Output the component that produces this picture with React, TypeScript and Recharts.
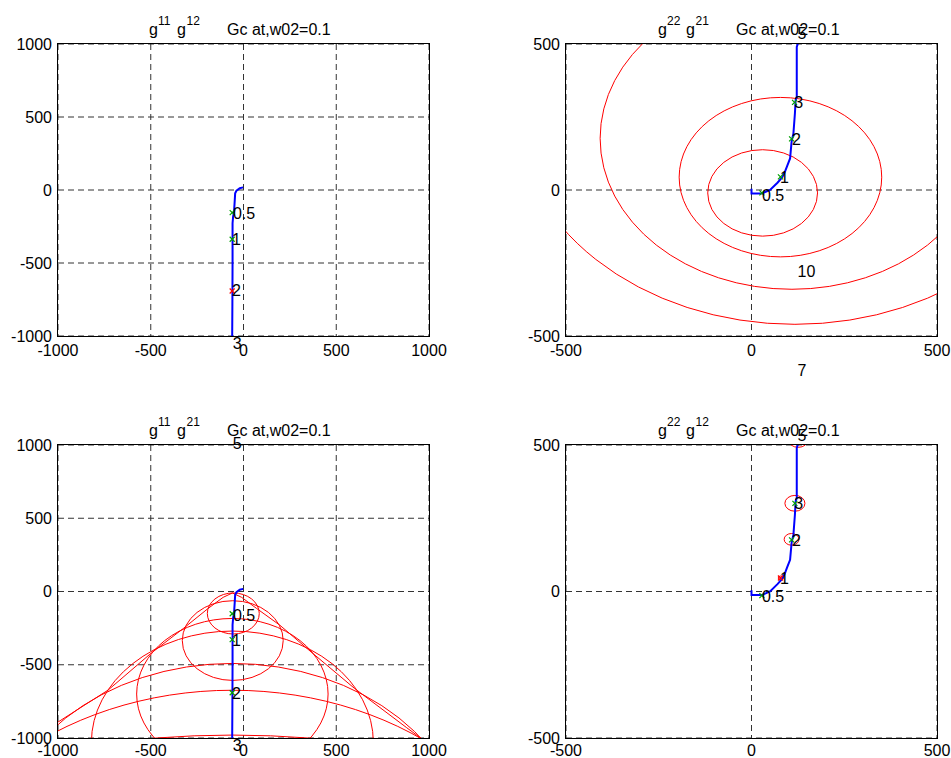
import React from "react";
import { CartesianGrid, ReferenceDot, Scatter, ScatterChart, XAxis, YAxis } from "recharts";

const FONT = '"Liberation Sans", Arial, Helvetica, sans-serif';
const BLUE = "#0000ff";
const RED = "#ff0000";
const GREEN = "#00a000";

// axis ticks
const bigTicks = [-1000, -500, 0, 500, 1000];
const smallTicks = [-500, 0, 500];

// g11 locus (left column)
const g11X = [-2, -20, -38, -45, -47, -51, -56, -59, -59, -60, -61];
const g11Y = [18, 12, -5, -23, -68, -148, -182, -228, -500, -800, -1005];

// g22 locus (right column)
const g22X = [0, 0, 28, 50, 70, 82, 90, 96, 104, 108, 113, 117, 119, 122, 122, 126];
const g22Y = [4, -12, -12, 0, 25, 42, 62, 82, 108, 165, 194, 262, 308, 319, 490, 505];

// top left
const tlGreenX = [-61, -61];
const tlGreenY = [-155, -337];
const tlRedX = [-61];
const tlRedY = [-692];
const tlText = ["0.5", "1", "2", "3"];
const tlTextX = [-57, -62, -62, -58];
const tlTextY = [-158, -337, -690, -1048];

// top right
const trCircX = [30, 78, 109, 117];
const trCircY = [-10, 44, 177, 299];
const trCircR = [148, 273, 517, 759];
const trGreenX = [28, 78, 108, 116];
const trGreenY = [-10, 45, 175, 300];
const trText = ["0.5", "1", "2", "3", "5", "10", "7"];
const trTextX = [28, 77, 109, 115, 124, 124, 124];
const trTextY = [-17, 43, 174, 299, 536, -277, -616];

// bottom left
const blCircX = [-55, -58, -60, -60, -60, -60, -60];
const blCircY = [-150, -335, -700, -1030, -1761, -2408, -5180];
const blCircR = [140, 272, 516, 760, 1270, 1734, 4200];
const blTentX = [-1000, -730, -496, -325, -191, -110, -60, -10, 71, 196, 375, 600, 880, 960];
const blTentY = [-891, -673, -419, -253, -116, -40, -10, -40, -116, -230, -424, -663, -930, -1005];
const blGreenX = [-61, -61, -61];
const blGreenY = [-152, -329, -691];
const blText = ["0.5", "1", "2", "3", "5"];
const blTextX = [-57, -62, -62, -58, -58];
const blTextY = [-161, -331, -696, -1049, 1013];

// bottom right
const brCircX = [79, 108, 117, 126];
const brCircY = [46, 178, 301, 519];
const brCircR = [7, 20, 27, 27];
const brGreenX = [28, 108, 117];
const brGreenY = [-14, 176, 301];
const brRedX = [78];
const brRedY = [46];
const brText = ["0.5", "1", "2", "3", "5"];
const brTextX = [28, 77, 109, 115, 124];
const brTextY = [-18, 45, 176, 301, 534];

type Series = { xs: number[]; ys: number[] };
type Circles = { xs: number[]; ys: number[]; rs: number[] };
type Labels = { text: string[]; xs: number[]; ys: number[] };

const zip = (xs: number[], ys: number[]) => xs.map((x, i) => ({ x, y: ys[i] }));

// centre, a point one radius right, a point one radius up
const ringTables = (c: Circles) =>
  c.xs.map((x, i) => [
    { x, y: c.ys[i] },
    { x: x + c.rs[i], y: c.ys[i] },
    { x, y: c.ys[i] + c.rs[i] },
  ]);

const Ellipse = (props: any) => {
  const p = props.points;
  if (!p || p.length < 3) return <g />;
  return (
    <ellipse
      cx={p[0].x}
      cy={p[0].y}
      rx={Math.abs(p[1].x - p[0].x)}
      ry={Math.abs(p[2].y - p[0].y)}
      fill="none"
      stroke={RED}
      strokeWidth={1}
    />
  );
};

const Hidden = () => <g />;

const cross = (color: string) => (props: any) => {
  const { cx, cy } = props;
  const s = 2.5;
  return (
    <path
      d={`M${cx - s},${cy - s}L${cx + s},${cy + s}M${cx - s},${cy + s}L${cx + s},${cy - s}`}
      stroke={color}
      strokeWidth={1.2}
      fill="none"
    />
  );
};

function Panel(props: {
  box: number[];
  lim: number;
  ticks: number[];
  padB: number;
  padR: number;
  gap: number;
  locus: Series;
  circles?: Circles;
  arcs?: Series[];
  green: Series;
  red?: Series;
  labels: Labels;
}) {
  const { box, lim, ticks, padB, padR, gap, locus, circles, arcs = [], green, red, labels } = props;
  const [L, T, W, H] = box;
  const padL = 60;
  const padT = 24;
  const tick = { fill: "#000", fontSize: 16, fontFamily: FONT };
  const rings = circles ? ringTables(circles) : [];

  return (
    <>
      <div style={{ position: "absolute", left: L - padL, top: T - padT }}>
        <ScatterChart
            width={W + padL + padR}
            height={H + padT + padB}
            margin={{ top: padT, right: padR, bottom: 0, left: 0 }}
            style={{ overflow: "visible" }}
        >
            <CartesianGrid stroke="#333" strokeDasharray="6 4" />
            <XAxis
                type="number"
                dataKey="x"
                domain={[-lim, lim]}
                ticks={ticks}
                allowDataOverflow
                interval={0}
                height={padB}
                tickLine={false}
                axisLine={false}
                tickSize={0}
                tickMargin={gap}
                tick={tick}
            />
            <YAxis
                type="number"
                dataKey="y"
                domain={[-lim, lim]}
                ticks={ticks}
                allowDataOverflow
                interval={0}
                width={padL}
                tickLine={false}
                axisLine={false}
                tickSize={0}
                tickMargin={6}
                tick={tick}
            />
            {rings.map((d, i) => (
                <Scatter key={"c" + i} data={d} line={Ellipse} shape={Hidden} isAnimationActive={false} />
            ))}
            {arcs.map((s, i) => (
                <Scatter
                    key={"a" + i}
                    data={zip(s.xs, s.ys)}
                    line={{ stroke: RED, strokeWidth: 1 }}
                    shape={Hidden}
                    isAnimationActive={false}
                />
            ))}
            <Scatter
                data={zip(locus.xs, locus.ys)}
                line={{ stroke: BLUE, strokeWidth: 2 }}
                shape={Hidden}
                isAnimationActive={false}
            />
            <Scatter data={zip(green.xs, green.ys)} shape={cross(GREEN)} isAnimationActive={false} />
            {red && <Scatter data={zip(red.xs, red.ys)} shape={cross(RED)} isAnimationActive={false} />}
            {labels.text.map((t, i) => (
                <ReferenceDot
                    key={"t" + i}
                    x={labels.xs[i]}
                    y={labels.ys[i]}
                    r={0}
                    ifOverflow="visible"
                    shape={(p: any) => (
                        <text x={p.cx} y={p.cy} dy="0.355em" fill="#000" fontSize={16} fontFamily={FONT}>
                            {t}
                        </text>
                    )}
                />
            ))}
        </ScatterChart>
      </div>
      {/* axes box */}
      <div
        style={{
          position: "absolute",
          left: L - 1,
          top: T - 1,
          width: W + 2,
          height: H + 2,
          border: "1px solid #000",
          boxSizing: "border-box",
          pointerEvents: "none",
        }}
      />
    </>
  );
}

function Title({ x, y, a, b }: { x: number; y: number; a: string; b: string }) {
  return (
    <text y={y} fontFamily={FONT} fontSize={16} fill="#000">
      <tspan x={x}>g</tspan>
      <tspan x={x + 9} dy={-10} fontSize={12}>{a}</tspan>
      <tspan x={x + 28} dy={10}>g</tspan>
      <tspan x={x + 37.5} dy={-10} fontSize={12}>{b}</tspan>
      <tspan x={x + 78} dy={10}>Gc at,w02=0.1</tspan>
    </text>
  );
}

export default function App() {
  return (
    <div style={{ position: "absolute", left: 0, top: 0, width: 951, height: 758, background: "#fff", fontFamily: FONT }}>
      <style>{"body{margin:0;overflow:hidden}"}</style>
      <Panel
        box={[58, 44, 371, 292]}
        lim={1000}
        ticks={bigTicks}
        padB={50}
        padR={30}
        gap={9}
        locus={{ xs: g11X, ys: g11Y }}
        green={{ xs: tlGreenX, ys: tlGreenY }}
        red={{ xs: tlRedX, ys: tlRedY }}
        labels={{ text: tlText, xs: tlTextX, ys: tlTextY }}
      />
      <Panel
        box={[566, 44, 371, 292]}
        lim={500}
        ticks={smallTicks}
        padB={50}
        padR={14}
        gap={9}
        locus={{ xs: g22X, ys: g22Y }}
        circles={{ xs: trCircX, ys: trCircY, rs: trCircR }}
        green={{ xs: trGreenX, ys: trGreenY }}
        labels={{ text: trText, xs: trTextX, ys: trTextY }}
      />
      <Panel
        box={[58, 445, 371, 293]}
        lim={1000}
        ticks={bigTicks}
        padB={20}
        padR={30}
        gap={7}
        locus={{ xs: g11X, ys: g11Y }}
        circles={{ xs: blCircX, ys: blCircY, rs: blCircR }}
        arcs={[{ xs: blTentX, ys: blTentY }]}
        green={{ xs: blGreenX, ys: blGreenY }}
        labels={{ text: blText, xs: blTextX, ys: blTextY }}
      />
      <Panel
        box={[566, 445, 371, 293]}
        lim={500}
        ticks={smallTicks}
        padB={20}
        padR={14}
        gap={7}
        locus={{ xs: g22X, ys: g22Y }}
        circles={{ xs: brCircX, ys: brCircY, rs: brCircR }}
        green={{ xs: brGreenX, ys: brGreenY }}
        red={{ xs: brRedX, ys: brRedY }}
        labels={{ text: brText, xs: brTextX, ys: brTextY }}
      />
      <svg
        width={951}
        height={758}
        style={{ position: "absolute", left: 0, top: 0, pointerEvents: "none" }}
      >
        <Title x={149} y={35} a="11" b="12" />
        <Title x={658} y={35} a="22" b="21" />
        <Title x={149} y={436} a="11" b="21" />
        <Title x={658} y={436} a="22" b="12" />
      </svg>
    </div>
  );
}
